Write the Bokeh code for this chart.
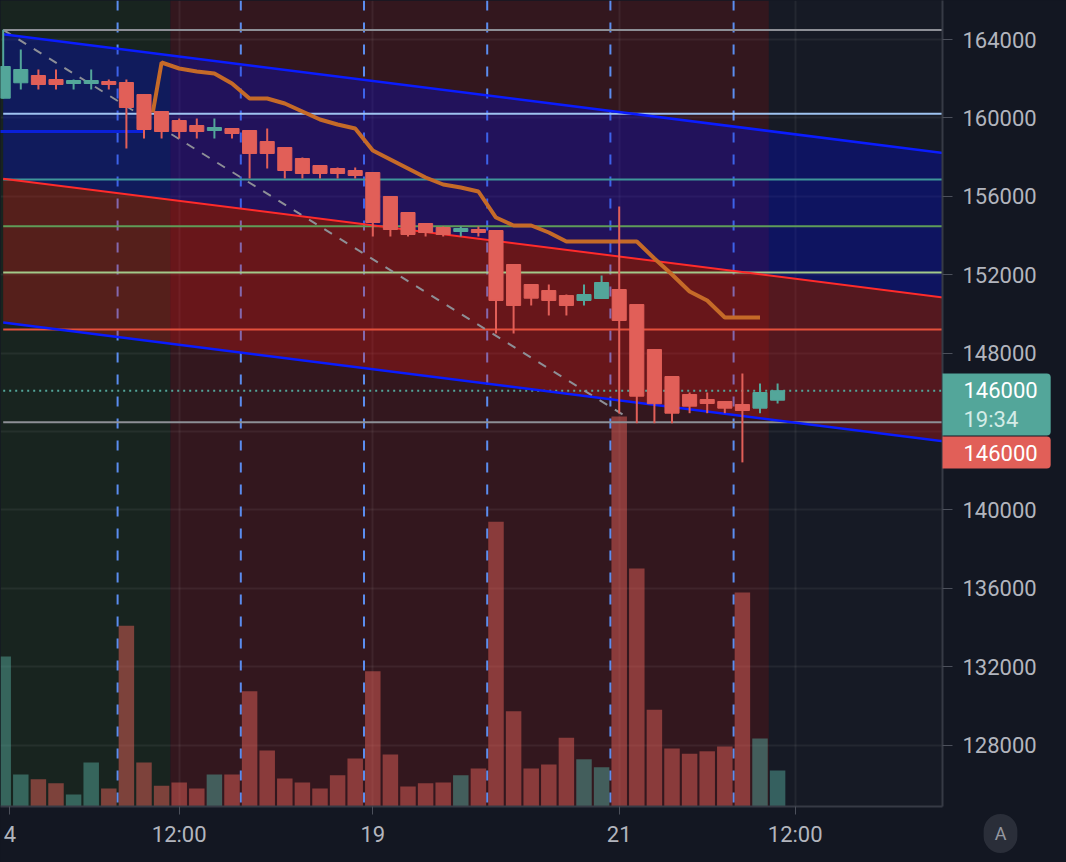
from bokeh.plotting import figure
from bokeh.models import (Range1d, FixedTicker, BoxAnnotation, Span, Label, Grid,
                          BasicTickFormatter, GlobalInlineStyleSheet)
from bokeh.embed import file_html
from bokeh.resources import INLINE

# ---------------- data ----------------
bars = list(range(45))
opens = [161005, 161791, 162163, 161959, 161755, 161755, 161857, 161806, 161194, 160327,
         159867, 159612, 159357, 159459, 159357, 158796, 158490, 157929, 157571, 157418,
         157316, 157214, 155990, 155173, 154612, 154408, 154204, 154306, 154255, 152520,
         151500, 151194, 150939, 150684, 150786, 151245, 150480, 148184, 146806, 145888,
         145633, 145531, 145378, 145189, 145597]
highs = [164495, 163490, 162469, 162469, 161959, 162469, 161959, 161959, 161194, 160327,
         159969, 159969, 159969, 159459, 159357, 159459, 158490, 157980, 157571, 157469,
         157469, 157214, 155990, 155173, 154612, 154459, 154459, 154459, 154255, 152520,
         151500, 151500, 150990, 151500, 151959, 155480, 150480, 148184, 146806, 145990,
         145990, 145531, 146959, 146449, 146449]
lows = [160990, 161449, 161449, 161449, 161449, 161449, 161449, 158439, 158949, 158949,
        158949, 158949, 158949, 158949, 156908, 157418, 156908, 156908, 156908, 156908,
        156908, 153949, 153949, 153949, 153949, 153949, 153949, 153949, 149000, 149000,
        150429, 149919, 149919, 150429, 150786, 144918, 144424, 144424, 144424, 144934,
        144934, 144934, 142424, 144934, 145434]
closes = [162622, 162469, 161704, 161704, 161908, 161908, 161704, 160531, 159408, 159306,
          159306, 159306, 159510, 159204, 158184, 158184, 157316, 157163, 157163, 157163,
          157061, 154663, 154306, 154051, 154153, 154051, 154357, 154153, 150684, 150429,
          150801, 150684, 150429, 150990, 151602, 149663, 145801, 145419, 144934, 145291,
          145429, 145189, 145072, 145990, 146082]
volumes = [375, 80, 68, 58, 30, 110, 45, 452, 110, 52,
           60, 45, 80, 80, 288, 140, 70, 60, 45, 78,
           120, 338, 130, 50, 58, 60, 78, 95, 712, 238,
           95, 105, 172, 118, 98, 975, 595, 242, 145, 132,
           138, 150, 535, 170, 90]

ma_x = [8.5] + list(range(9, 44))
ma_vals = [160276, 162827, 162520, 162367, 162265, 161755, 160990, 160990, 160735, 160327,
           159918, 159663, 159459, 158337, 157878, 157418, 156959, 156602, 156449, 156245,
           154918, 154510, 154510, 154153, 153694, 153694, 153694, 153694, 153694, 152827,
           152010, 151143, 150684, 149816, 149816, 149816]

channel_x = [0, 54]
channel_upper = [164270, 158141]
channel_mid = [156900, 150771]
channel_lower = [149560, 143431]

trend_x = [0, 35.5]
trend_y = [164495, 144700]

level_prices = [164485, 160209, 156857, 154475, 152112, 149204, 144474]
level_colors = ["#8d8f96", "#9fc3f0", "#3f969a", "#5f9c58", "#a3c98a", "#e4503c", "#8d8f96"]
ray_price = 159306
last_price = 146082

price_ticks = [128000, 132000, 136000, 140000, 148000, 152000, 156000, 160000, 164000]
grid_prices = list(range(128000, 168000, 4000))
time_ticks = [10, 21, 35, 45]
time_labels = ["12:00", "19", "21", "12:00"]
session_marks = [6.5, 13.5, 20.5, 27.5, 34.5, 41.5]

# ---------------- helpers to place annotations in reference pixels ----------------
def kx(px):
    return (px - 2.7) / 17.6

def py(px):
    return 164000 - (px - 39) / 0.0196

UP = "#53a69a"
DN = "#e15f58"
FONT = "Roboto"

p = figure(frame_width=942, frame_height=806,
           x_range=Range1d(kx(0), kx(942)), y_range=Range1d(py(806), py(0)),
           y_axis_location="right", output_backend="svg", toolbar_location=None,
           min_border_left=0, min_border_top=0, min_border_right=124, min_border_bottom=56,
           background_fill_color="#161a25", border_fill_color="#131722",
           outline_line_color=None)
p.extra_y_ranges = {"vol": Range1d(0, 2015)}
p.xgrid.visible = False
p.ygrid.visible = False
p.stylesheets = [GlobalInlineStyleSheet(
    css="html, body { background-color: #131722; overflow: hidden; }")]

# session backgrounds
p.add_layout(BoxAnnotation(right=9.5, fill_color="#18241f", fill_alpha=1, line_color=None, level="underlay"))
p.add_layout(BoxAnnotation(left=9.5, right=43.5, fill_color="#33171e", fill_alpha=1, line_color=None, level="underlay"))

# grid
p.add_layout(Grid(dimension=0, ticker=FixedTicker(ticks=time_ticks), grid_line_color="#ffffff",
                  grid_line_alpha=0.06, grid_line_width=2), "center")
p.add_layout(Grid(dimension=1, ticker=FixedTicker(ticks=grid_prices), grid_line_color="#ffffff",
                  grid_line_alpha=0.06, grid_line_width=2), "center")

for loc in session_marks:
    p.add_layout(Span(location=loc, dimension="height", line_color="#5b8def", line_width=2,
                      line_dash="10 12", level="underlay"))

# channel fills
p.varea(x=channel_x, y1=channel_mid, y2=channel_upper, fill_color="#000adc", fill_alpha=0.32)
p.varea(x=channel_x, y1=channel_lower, y2=channel_mid, fill_color="#e61414", fill_alpha=0.30)

# volume
vol_colors = [UP if c >= o else DN for o, c in zip(opens, closes)]
p.vbar(x=bars, width=0.88, top=volumes, bottom=0, y_range_name="vol",
       fill_color=vol_colors, fill_alpha=0.5, line_color=None)

# horizontal levels
for lv, col in zip(level_prices, level_colors):
    p.segment(x0=0, y0=lv, x1=60, y1=lv, line_color=col, line_width=2)
p.segment(x0=0, y0=last_price, x1=60, y1=last_price, line_color=UP, line_width=2, line_dash="2 4")

# trend line
p.line(trend_x, trend_y, line_color="#8d8f96", line_width=2, line_dash="9 9")

# channel lines
p.line(channel_x, channel_upper, line_color="#0a1cff", line_width=2.5)
p.line(channel_x, channel_mid, line_color="#ff2b2b", line_width=2)
p.line(channel_x, channel_lower, line_color="#0a1cff", line_width=2.5)
p.segment(x0=-1, y0=ray_price, x1=8, y1=ray_price, line_color="#0a20d8", line_width=3)

# moving average
p.line(ma_x, ma_vals, line_color="#c56a28", line_width=4)

# candles
colors = [UP if c >= o else DN for o, c in zip(opens, closes)]
p.segment(x0=bars, y0=highs, x1=bars, y1=lows, line_color=colors, line_width=2)
p.vbar(x=bars, width=0.8, top=[max(o, c) for o, c in zip(opens, closes)],
       bottom=[min(o, c) for o, c in zip(opens, closes)],
       fill_color=colors, line_color=colors, line_width=1)

# axes
ya = p.yaxis[0]
ya.ticker = FixedTicker(ticks=price_ticks)
ya.formatter = BasicTickFormatter(use_scientific=False)
ya.axis_line_color = "#363a45"
ya.axis_line_width = 2
ya.major_tick_line_color = "#4c505b"
ya.major_tick_out = 10
ya.major_tick_in = 0
ya.minor_tick_out = 0
ya.minor_tick_in = 0
ya.major_label_standoff = 10
ya.major_label_text_font = FONT
ya.major_label_text_font_size = "22px"
ya.major_label_text_color = "#b2b5be"

first_tick = round(kx(9.5), 3)
xa = p.xaxis[0]
xa.ticker = FixedTicker(ticks=[first_tick] + time_ticks)
xa.major_label_overrides = {first_tick: "4", **{t: l for t, l in zip(time_ticks, time_labels)}}
xa.axis_line_color = "#363a45"
xa.axis_line_width = 2
xa.major_tick_line_color = "#4c505b"
xa.major_tick_out = 8
xa.major_tick_in = 0
xa.minor_tick_out = 0
xa.minor_tick_in = 0
xa.major_label_standoff = 7
xa.major_label_text_font = FONT
xa.major_label_text_font_size = "22px"
xa.major_label_text_color = "#b2b5be"

# price tags on the scale (side-panel labels are not clipped to the frame)
radius = dict(top_left=0, top_right=4, bottom_right=4, bottom_left=0)
p.add_layout(Label(x=kx(942), y=py(373), text="146000", text_align="left", text_baseline="top",
                   text_font=FONT, text_font_size="22px", text_color="#ffffff",
                   background_fill_color=UP, padding=dict(left=21, right=13, top=8, bottom=38),
                   border_radius=radius), "right")
p.add_layout(Label(x=kx(963), y=py(419), text="19:34", text_align="left", text_baseline="middle",
                   text_font=FONT, text_font_size="22px", text_color="#d3ece7"), "right")
p.add_layout(Label(x=kx(942), y=py(436), text="146000", text_align="left", text_baseline="top",
                   text_font=FONT, text_font_size="22px", text_color="#ffffff",
                   background_fill_color=DN, padding=dict(left=21, right=13, top=8, bottom=8),
                   border_radius=radius), "right")
p.add_layout(Label(x=kx(1000), y=py(833), text="A", text_align="center", text_baseline="middle",
                   text_font=FONT, text_font_size="18px", text_color="#9598a1",
                   background_fill_color="#2a2e39", padding=dict(left=11, right=11, top=9, bottom=9),
                   border_radius=17), "right")

open("out.html", "w").write(file_html(p, INLINE))
